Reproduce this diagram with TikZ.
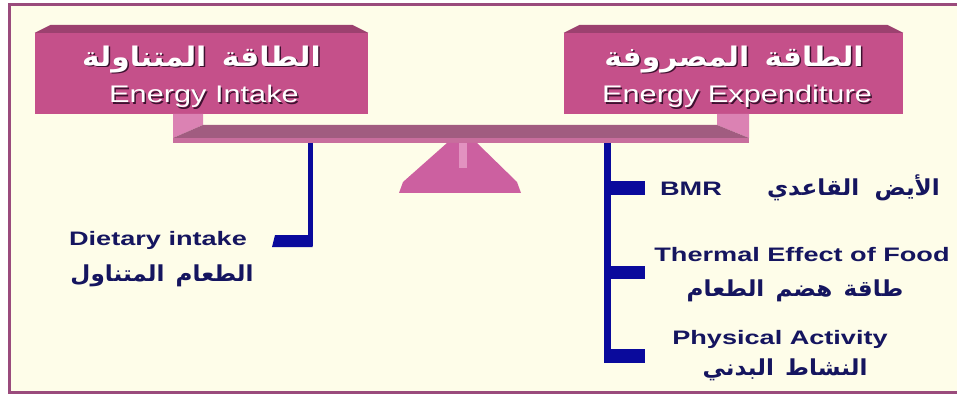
\documentclass[tikz,border=0pt]{standalone}
\usepackage{fontspec}
\usetikzlibrary{calc}
\setmainfont{Liberation Sans}
\newfontfamily\headfont[FakeStretch=1.28]{Liberation Sans}
\newfontfamily\labelfont[FakeStretch=1.39]{Liberation Sans}
\newfontfamily\arabichead[Script=Arabic,FakeStretch=1.1,WordSpace=1.5]{DejaVu Sans}
\newfontfamily\arabiclabel[Script=Arabic,FakeStretch=1.05,WordSpace=1.4]{DejaVu Sans}
\TeXXeTstate=1

\definecolor{paper}{HTML}{FEFDE9}
\definecolor{framecol}{HTML}{9A4B7C}
\definecolor{boxface}{HTML}{C5508A}
\definecolor{boxtop}{HTML}{9C416F}
\definecolor{beamtop}{HTML}{A15C80}
\definecolor{beamedge}{HTML}{C86E9D}
\definecolor{beamend}{HTML}{DB82B3}
\definecolor{pivot}{HTML}{CC60A0}
\definecolor{pivotpost}{HTML}{E292C0}
\definecolor{wire}{HTML}{0A0A9C}
\definecolor{ink}{HTML}{15155F}
\definecolor{shade}{HTML}{3E1230}

\tikzset{
  panel/.style={fill=boxface, inner sep=0pt},
  headen/.style={text=white, font=\headfont\fontsize{24}{28}\selectfont, inner sep=0pt},
  headar/.style={text=white, font=\arabichead\bfseries\fontsize{27}{32}\selectfont, inner sep=0pt},
  shadowed/.style={text=shade},
  laben/.style={text=ink, font=\labelfont\bfseries\fontsize{19.5}{23}\selectfont, inner sep=0pt},
  labar/.style={text=ink, font=\arabiclabel\bfseries\fontsize{22}{26}\selectfont, inner sep=0pt},
  trunk/.style={draw=wire, line width=7pt},
}

\begin{document}
\begin{tikzpicture}[x=1pt,y=-1pt]
\useasboundingbox (0,0) rectangle (957,395);
\fill[white] (0,0) rectangle (957,395);
% framed page
\fill[paper] (9,5) rectangle (975,392);
\draw[framecol, line width=3pt] (9,5) rectangle (975,392);

% the two header panels with their bevelled top
\node[panel, minimum width=333pt, minimum height=81pt] (intake) at (201.5,73.5) {};
\fill[boxtop] (intake.north west) -- ++(16,-8) -- ($(intake.north east)+(-16,-8)$) -- (intake.north east) -- cycle;
\node[panel, minimum width=339pt, minimum height=81pt] (spent) at (733.5,73.5) {};
\fill[boxtop] (spent.north west) -- ++(16,-8) -- ($(spent.north east)+(-16,-8)$) -- (spent.north east) -- cycle;

% panel titles with drop shadow
\node[headar, shadowed] at (203,61) {\beginR الطاقة المتناولة\endR};
\node[headar] (intakeAr) at (201.5,59.5) {\beginR الطاقة المتناولة\endR};
\node[headen, shadowed] at (205.5,98) {Energy Intake};
\node[headen] (intakeEn) at (204,96.5) {Energy Intake};
\node[headar, shadowed] at (735.5,61) {\beginR الطاقة المصروفة\endR};
\node[headar] (spentAr) at (734,59.5) {\beginR الطاقة المصروفة\endR};
\node[headen, shadowed] at (738.5,98) {Energy Expenditure};
\node[headen] (spentEn) at (737,96.5) {Energy Expenditure};

% balance beam
\fill[beamend] (173,114) -- (203,114) -- (203,125) -- (173,138) -- cycle;
\fill[beamend] (717,114) -- (749,114) -- (749,138) -- (717,125) -- cycle;
\fill[beamtop] (173,138) -- (203,125) -- (717,125) -- (749,138) -- cycle;
\fill[beamedge] (173,138) rectangle (749,143);
\coordinate (beamL) at (310,143);
\coordinate (beamR) at (607.5,143);

% pivot
\fill[pivot] (447,143) -- (477,143) -- (517,182) -- (521,193) -- (399,193) -- (403,182) -- cycle;
\fill[pivotpost] (459,143) rectangle (467,168);

% intake branch
\coordinate (leftFoot) at (310,247);
\draw[draw=wire, line width=5pt] (beamL) -- ($(leftFoot)+(0,-1)$);
\fill[wire] (312.5,235) -- (275,235) -- (272,247) -- (312.5,247) -- cycle;
\node[laben] (diet) at (158,240) {Dietary intake};
\node[labar] (dietAr) at (162,276) {\beginR الطعام المتناول\endR};

% expenditure branches
\coordinate (rightFoot) at (607.5,363);
\draw[trunk] (beamR) -- (rightFoot);
\fill[wire] (604,181) rectangle (645,195);
\fill[wire] (604,266) rectangle (645,279);
\fill[wire] (604,349) rectangle (645,363);

\node[laben] (bmr) at (691,189) {BMR};
\node[labar, anchor=base east] (bmrAr) at (940,196) {\beginR الأيض\hspace{4pt} القاعدي\endR};
\node[laben] (tef) at (802,255) {Thermal Effect of Food};
\node[labar] (tefAr) at (795,291) {\beginR طاقة هضم الطعام\endR};
\node[laben] (pa) at (780,339) {Physical Activity};
\node[labar] (paAr) at (785,370) {\beginR النشاط البدني\endR};
\end{tikzpicture}
\end{document}
